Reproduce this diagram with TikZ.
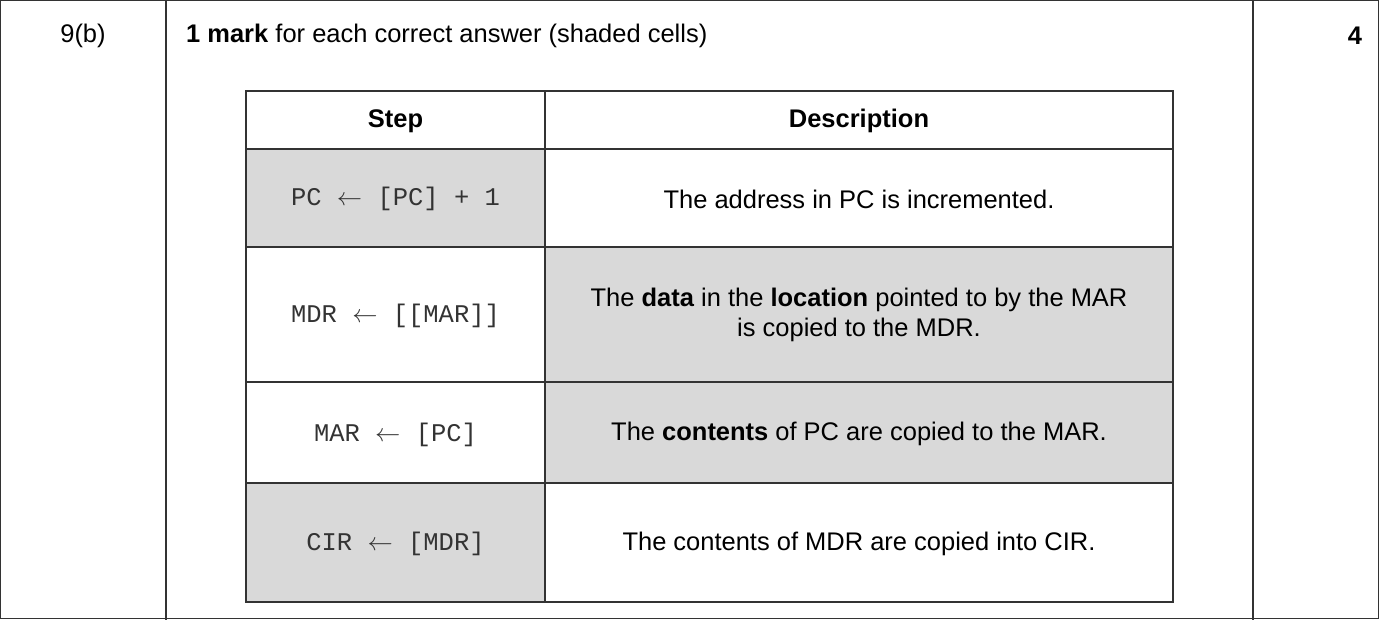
\documentclass[tikz,border=0pt]{standalone}
\usepackage{fontspec}
\setmainfont{Liberation Sans}
\setmonofont{Liberation Mono}
\usetikzlibrary{positioning}

\tikzset{
  shaded/.style={fill=black!15},
  rule/.style={draw=black!80,line width=1pt},
  txt/.style={font=\fontsize{14.5}{17}\selectfont,align=center},
  code/.style={font=\fontsize{14.5}{17}\ttfamily,text=black!80}
}

\begin{document}
\begin{tikzpicture}[x=0.02cm,y=-0.02cm]
\useasboundingbox (0,0) rectangle (1379,620);
% shaded cells
\fill[shaded] (246,149) rectangle (545,247);
\fill[shaded] (545,247) rectangle (1173,382);
\fill[shaded] (545,382) rectangle (1173,483);
\fill[shaded] (246,483) rectangle (545,602);
% outer frame
\draw[rule] (0.5,0.5) rectangle (1378.5,618.5);
\draw[rule] (166,0) -- (166,620);
\draw[rule] (1253,0) -- (1253,620);
% inner table
\draw[rule] (246,91) rectangle (1173,602);
\draw[rule] (545,91) -- (545,602);
\foreach \y in {149,247,382,483}
  \draw[rule] (246,\y) -- (1173,\y);

\node[txt] (q) at (83,36) {9(b)};
\node[txt,anchor=west] (head) at (180,36) {\textbf{1 mark} for each correct answer (shaded cells)};
\node[txt] (marks) at (1355,36) {\textbf{4}};

\node[txt] (steph) at (395.5,121) {\textbf{Step}};
\node[txt] (desch) at (859,121) {\textbf{Description}};

\node[code] (s1) at (395.5,199) {PC $\leftarrow$ [PC] + 1};
\node[code] (s2) at (395.5,316) {MDR $\leftarrow$ [[MAR]]};
\node[code] (s3) at (395.5,435) {MAR $\leftarrow$ [PC]};
\node[code] (s4) at (395.5,544) {CIR $\leftarrow$ [MDR]};

\node[txt] (d1) at (859,199) {The address in PC is incremented.};
\node[txt] (d2) at (859,315) {The \textbf{data} in the \textbf{location} pointed to by the MAR\\is copied to the MDR.};
\node[txt] (d3) at (859,434) {The \textbf{contents} of PC are copied to the MAR.};
\node[txt] (d4) at (859,544) {The contents of MDR are copied into CIR.};
\end{tikzpicture}
\end{document}
